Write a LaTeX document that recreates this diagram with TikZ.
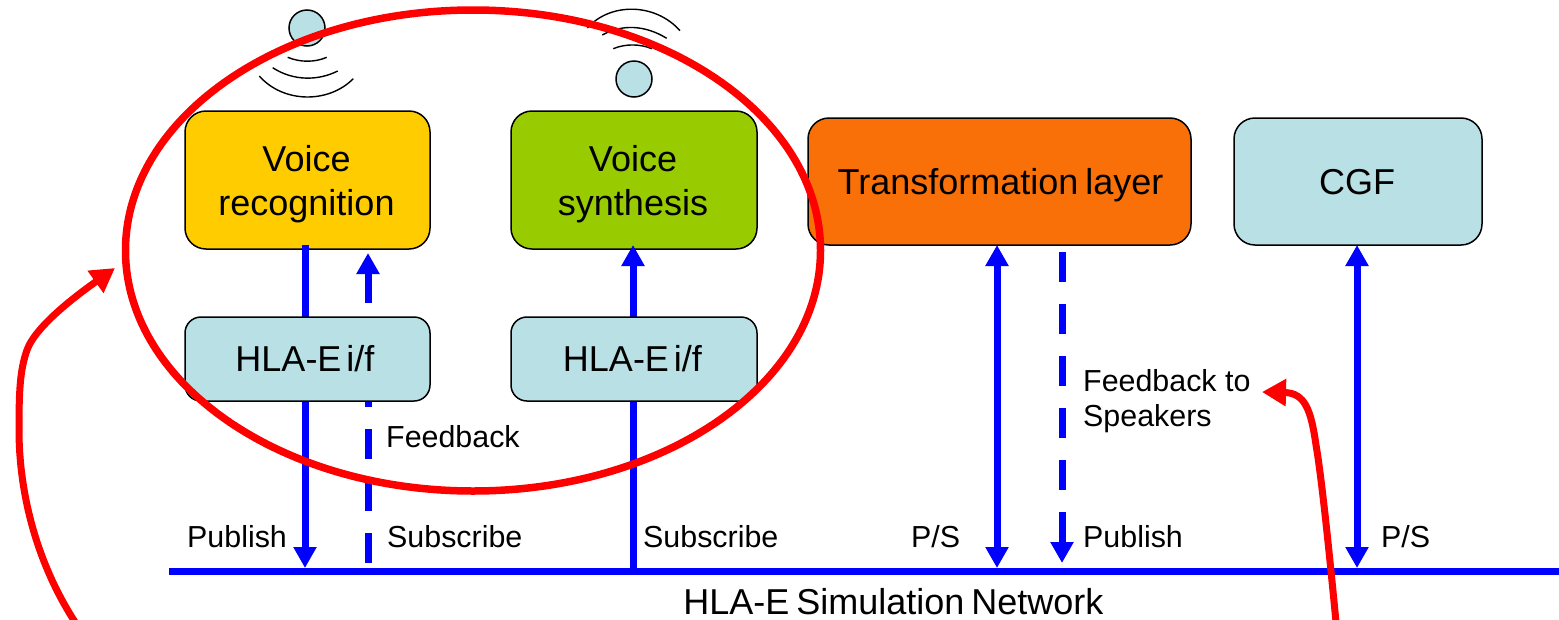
\documentclass[tikz,border=0pt]{standalone}
\usepackage{fontspec}
\setmainfont{Liberation Sans}
\usetikzlibrary{arrows.meta,calc,shapes.geometric}
\definecolor{boxblue}{RGB}{185,224,229}
\definecolor{boxyellow}{RGB}{255,204,0}
\definecolor{boxgreen}{RGB}{153,204,0}
\definecolor{boxorange}{RGB}{249,112,8}
\definecolor{netblue}{RGB}{0,0,255}
\definecolor{ringred}{RGB}{255,0,0}
\newcommand\wordgap[1]{\spaceskip=#1\relax}
\tikzset{
  x=1pt,y=-1pt,
  bigbox/.style={draw=black,line width=1.5pt,rounded corners=21pt,inner sep=0pt},
  bigtext/.style={anchor=base,inner sep=0pt,align=center,font=\fontsize{36}{44}\selectfont\wordgap{7pt}},
  ifbox/.style={draw=black,line width=1.5pt,rounded corners=16pt,inner sep=0pt,fill=boxblue,minimum width=245pt,minimum height=84pt},
  iftext/.style={anchor=base,inner sep=0pt,font=\fontsize{36}{44}\selectfont\wordgap{5pt}},
  lab/.style={anchor=base west,inner sep=0pt,align=left,font=\fontsize{30.4}{36}\selectfont},
  blueline/.style={draw=netblue,line width=7pt},
  uptip/.style={-{Triangle[length=21pt,width=22pt]}},
  duptip/.style={{Triangle[length=21pt,width=22pt]}-{Triangle[length=21pt,width=22pt]}},
  dashline/.style={blueline,dash pattern=on 30pt off 22pt},
  redline/.style={draw=ringred,line width=7pt},
  redtip/.style={-{Triangle[length=24pt,width=26pt]}},
  wave/.style={draw=black,line width=1.4pt},
  head/.style={circle,draw=black,line width=1.5pt,fill=boxblue,inner sep=0pt,minimum size=36pt}
}
\begin{document}
\begin{tikzpicture}
\useasboundingbox (0,0) rectangle (1559,619);
% speakers
\node[head] (h1) at (307,28) {};
\node[head] (h2) at (634,79) {};
\draw[wave] (287.7,57.3) .. controls (300,62.5) and (315,62.5) .. (326.7,57.3);
\draw[wave] (272.7,67.7) .. controls (293,81) and (318,81) .. (337.7,71);
\draw[wave] (259.3,76) .. controls (283,103) and (328,104) .. (353.3,78.7);
\draw[wave] (613.3,48.7) .. controls (625,43.7) and (640,43.7) .. (651.7,48.7);
\draw[wave] (602.3,35) .. controls (622,24) and (645,25) .. (666.7,38.3);
\draw[wave] (587.3,28) .. controls (610,2.5) and (655,2.5) .. (680,30.7);
% top boxes
\node[bigbox,fill=boxyellow,minimum width=245pt,minimum height=138pt] (vr) at (307.5,180) {};
\node[bigbox,fill=boxgreen,minimum width=246pt,minimum height=138pt] (vs) at (634,180) {};
\node[bigbox,fill=boxorange,minimum width=383pt,minimum height=127pt] (tl) at (999.5,181.5) {};
\node[bigbox,fill=boxblue,minimum width=248pt,minimum height=127pt] (cgf) at (1358,181.5) {};
\node[bigtext] (vrt) at (306.5,215) {Voice\\recognition};
\node[bigtext] (vst) at (633,215) {Voice\\synthesis};
\node[bigtext] (tlt) at (1000.5,194) {Transformation layer};
\node[bigtext] (cgft) at (1357,194) {CGF};
% network
\coordinate (nl) at (169,571);
\coordinate (nr) at (1559,571);
\draw[blueline] (nl) -- (nr);
% connectors
\coordinate (a1) at (305,245);
\coordinate (a1b) at (305,568);
\draw[blueline,uptip] (a1) -- (a1b);
\coordinate (d1) at (368,563);
\coordinate (d1t) at (368,253);
\draw[dashline,uptip] (d1) -- (d1t);
\coordinate (a2) at (633,571);
\coordinate (a2t) at (633,245);
\draw[blueline,uptip] (a2) -- (a2t);
\coordinate (a3) at (997,568);
\coordinate (a3t) at (997,245);
\draw[blueline,duptip] (a3t) -- (a3);
\coordinate (d2) at (1062,252);
\coordinate (d2b) at (1062,563);
\draw[dashline,uptip] (d2) -- (d2b);
\coordinate (a4) at (1357,568);
\coordinate (a4t) at (1357,245);
\draw[blueline,duptip] (a4t) -- (a4);
% interface boxes
\node[ifbox] (i1) at (307.5,359) {};
\node[ifbox,minimum width=246pt] (i2) at (634,359) {};
\node[iftext] (i1t) at (305,371) {HLA-E i/f};
\node[iftext] (i2t) at (632.5,371) {HLA-E i/f};
% labels
\node[lab] (l1) at (386,447) {Feedback};
\node[lab] (l2) at (187,547) {Publish};
\node[lab] (l3) at (387,547) {Subscribe};
\node[lab] (l4) at (643,547) {Subscribe};
\node[lab] (l5) at (911,547) {P/S};
\node[lab] (l6) at (1083,547) {Publish};
\node[lab] (l7) at (1381,547) {P/S};
\node[lab] (l8) at (1083,391) {Feedback to};
\node[lab] (l9) at (1083,426) {Speakers};
\node[bigtext] (net) at (893.5,614) {HLA-E Simulation Network};
% red
\node[draw=ringred,line width=7.5pt,ellipse,inner sep=0pt,minimum width=695pt,minimum height=481pt] (ring) at (473,250.5) {};
\coordinate (r1) at (75,622);
\coordinate (r1t) at (115,268);
\draw[redline,redtip] (r1) .. controls (35,560) and (19,490) .. (19,430) .. controls (19,390) and (20,370) .. (27,350) .. controls (36,325) and (80,293) .. (r1t);
\coordinate (r2) at (1336,622);
\coordinate (r2t) at (1262,392);
\draw[redline,redtip] (r2) .. controls (1330,560) and (1322,480) .. (1316,445) .. controls (1311,410) and (1305,393) .. (r2t);
\end{tikzpicture}
\end{document}
